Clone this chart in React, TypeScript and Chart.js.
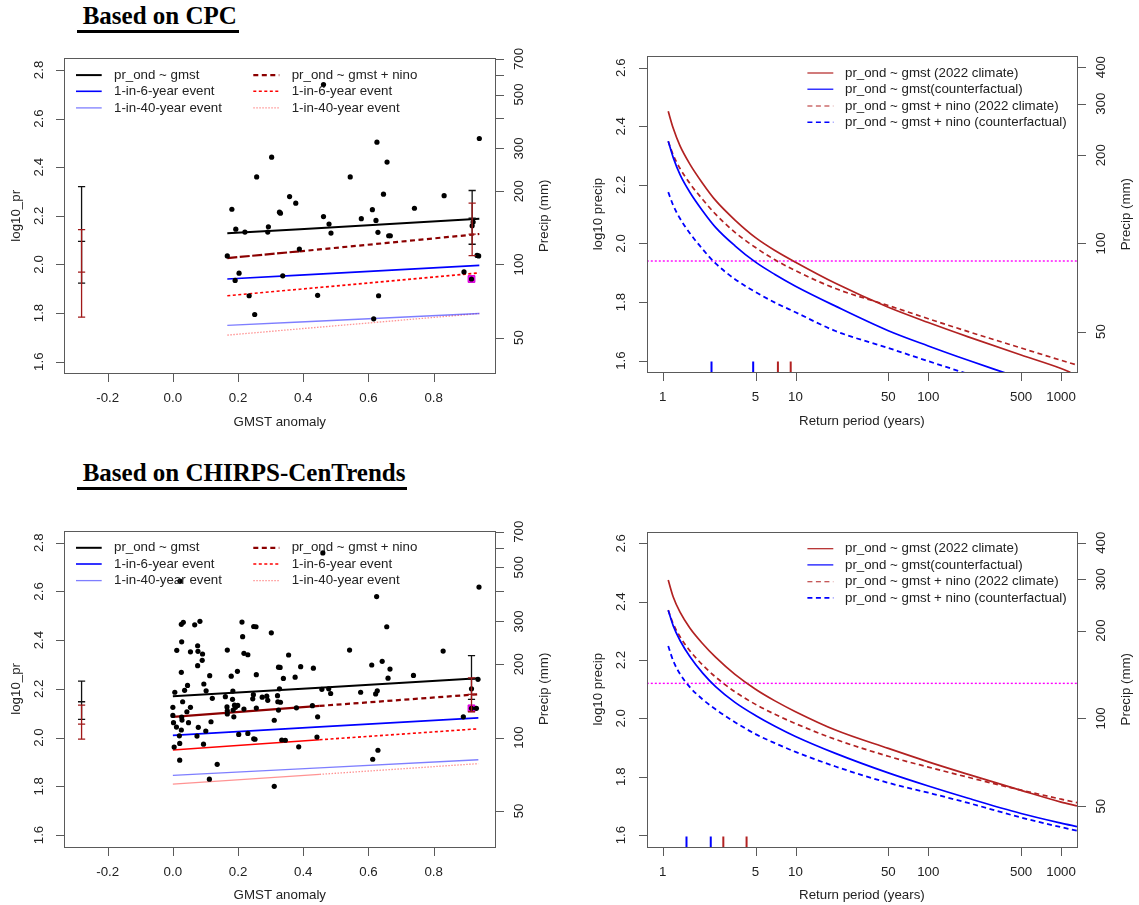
import React, { useEffect, useRef } from "react";
import { Chart, registerables } from "chart.js";

Chart.register(...registerables);

// ---------- styling ----------
const FONT_FAMILY = '"Liberation Sans", Arial, Helvetica, sans-serif';
const TICK_FONT = `13.3px ${FONT_FAMILY}`;
const TEXT_COLOR = "#222222";
const FRAME_COLOR = "#5a5a5a";
const BLUE = "#0000FF";
const LIGHT_BLUE = "rgba(40,40,255,0.6)";
const FIREBRICK = "#B22222";
const DARK_RED = "#8B0000";
const RED = "#FF0000";
const LIGHT_RED = "rgba(255,40,40,0.5)";
const MAGENTA = "#FF00FF";

// ---------- axes ----------
const GMST_TICKS = [-0.2, 0, 0.2, 0.4, 0.6, 0.8];
const GMST_TICK_LABELS = ["-0.2", "0.0", "0.2", "0.4", "0.6", "0.8"];
const TREND_LOG_TICKS = [1.6, 1.8, 2.0, 2.2, 2.4, 2.6, 2.8];
const TREND_MM_TICKS = [50, 100, 200, 300, 400, 500, 600, 700];
const TREND_MM_LABELS = ["50", "100", "200", "300", "", "500", "", "700"];
const RP_TICKS = [1, 5, 10, 50, 100, 500, 1000];
const RP_TICK_LABELS = ["1", "5", "10", "50", "100", "500", "1000"];
const RL_LOG_TICKS = [1.6, 1.8, 2.0, 2.2, 2.4, 2.6];
const RL_MM_TICKS = [50, 100, 200, 300, 400];
const RL_MM_LABELS = ["50", "100", "200", "300", "400"];

const GMST_RANGE = [-0.333, 0.989];
const TREND_LOG_RANGE = [1.552, 2.848];
const RP_RANGE = [0.7586, 1318.3];
const RL_LOG_RANGE = [1.56, 2.64];

// ---------- CPC (1979-2022) ----------
const CPC_GMST = [
  0.167, 0.181, 0.193, 0.191, 0.203, 0.221, 0.234, 0.251, 0.257, 0.293, 0.291,
  0.303, 0.327, 0.33, 0.337, 0.358, 0.377, 0.388, 0.444, 0.462, 0.462, 0.479,
  0.485, 0.544, 0.578, 0.612, 0.616, 0.623, 0.626, 0.629, 0.631, 0.646, 0.657,
  0.662, 0.667, 0.741, 0.832, 0.893, 0.916, 0.918, 0.921, 0.933, 0.938, 0.94,
];
const CPC_LOG10_PR = [
  2.035, 2.227, 2.145, 1.934, 1.964, 2.133, 1.871, 1.794, 2.36, 2.155, 2.133,
  2.441, 2.215, 2.211, 1.953, 2.279, 2.252, 2.063, 1.873, 2.197, 2.74, 2.166,
  2.129, 2.36, 2.188, 2.225, 1.776, 2.181, 2.503, 2.132, 1.871, 2.289, 2.421,
  2.118, 2.118, 2.231, 2.283, 1.969, 1.94, 2.159, 2.174, 2.037, 2.035, 2.518,
];
const CPC_EVENT_GMST = [0.916];
const CPC_EVENT_LOG10_PR = [1.94];

// fitted lines: first year, end of the crowded GMST stretch, last year
const CPC_LINE_GMST = [0.167, 0.39, 0.94];
const CPC_MEAN_GMST = [2.128, 2.145, 2.188];
const CPC_RP6_GMST = [1.94, 1.956, 1.996];
const CPC_RP40_GMST = [1.749, 1.763, 1.798];
const CPC_MEAN_NINO = [2.026, 2.054, 2.125];
const CPC_RP6_NINO = [1.871, 1.898, 1.965];
const CPC_RP40_NINO = [1.709, 1.735, 1.798];

// confidence intervals at counterfactual and 2022 GMST
const CPC_CI_GMST = [-0.28, 0.918];
const CPC_CI_TREND_LO = [1.923, 2.083];
const CPC_CI_TREND_MID = [2.095, 2.19];
const CPC_CI_TREND_HI = [2.32, 2.304];
const CPC_CI_NINO_LO = [1.783, 2.036];
const CPC_CI_NINO_MID = [1.968, 2.125];
const CPC_CI_NINO_HI = [2.143, 2.252];

// return-level curves (return period in years, log10 precip)
const CPC_RP_TREND_NOW = [1.1, 1.2, 1.35, 1.6, 2, 2.5, 3.5, 5, 7, 10, 20, 50, 100, 200, 500, 1000, 1175];
const CPC_RL_TREND_NOW = [2.451, 2.393, 2.333, 2.271, 2.205, 2.147, 2.08, 2.02, 1.976, 1.936, 1.864, 1.782, 1.73, 1.681, 1.619, 1.573, 1.56];
const CPC_RP_TREND_CF = [1.1, 1.2, 1.35, 1.6, 2, 2.5, 3.5, 5, 7, 10, 20, 50, 100, 200, 383];
const CPC_RL_TREND_CF = [2.349, 2.293, 2.235, 2.175, 2.111, 2.055, 1.992, 1.936, 1.894, 1.854, 1.786, 1.702, 1.65, 1.601, 1.557];
const CPC_RP_NINO_NOW = [1.1, 1.2, 1.35, 1.6, 2, 2.5, 3.5, 5, 7, 10, 20, 50, 100, 200, 500, 1000, 1318];
const CPC_RL_NINO_NOW = [2.349, 2.302, 2.256, 2.205, 2.15, 2.1, 2.038, 1.986, 1.944, 1.907, 1.846, 1.788, 1.743, 1.699, 1.643, 1.601, 1.585];
const CPC_RP_NINO_CF = [1.1, 1.2, 1.35, 1.6, 2, 2.5, 3.5, 5, 7, 10, 20, 50, 100, 200];
const CPC_RL_NINO_CF = [2.175, 2.13, 2.085, 2.035, 1.98, 1.932, 1.878, 1.834, 1.798, 1.765, 1.701, 1.643, 1.598, 1.554];
const CPC_EVENT_RP_CF = [2.33, 4.8];
const CPC_EVENT_RP_NOW = [7.37, 9.2];

// ---------- CHIRPS-CenTrends ----------
const CHIRPS_GMST = [
  0.026, 0.032, 0.067, 0.083, 0.212, 0.248, 0.255, 0.302, 0.214, 0.027, 0.012,
  0.054, 0.076, 0.077, 0.091, 0.09, 0.076, 0.167, 0.218, 0.23, 0.355, 0.026,
  0.113, 0.179, 0.198, 0.256, 0.324, 0.329, 0.392, 0.431, 0.339, 0.375, 0.095,
  0.045, 0.006, 0.036, 0.102, 0.184, 0.327, 0.457, 0.121, 0.161, 0.183, 0.247,
  0.245, 0.274, 0.288, 0.291, 0.321, 0.03, 0.0, 0.054, 0.043, 0.166, 0.167,
  0.189, 0.192, 0.199, 0.185, 0.218, 0.256, 0.322, 0.33, 0.324, 0.379, 0.428,
  0.0, 0.027, 0.028, 0.167, 0.187, 0.002, 0.048, 0.117, 0.311, 0.444, 0.011,
  0.026, 0.078, 0.101, 0.02, 0.074, 0.202, 0.23, 0.248, 0.252, 0.334, 0.345,
  0.442, 0.021, 0.094, 0.004, 0.386, 0.021, 0.136, 0.112, 0.311, 0.625, 0.656,
  0.542, 0.829, 0.61, 0.642, 0.666, 0.66, 0.738, 0.478, 0.484, 0.576, 0.622,
  0.627, 0.936, 0.916, 0.916, 0.931, 0.891, 0.629, 0.613, 0.022, 0.46, 0.939,
];
const CHIRPS_LOG10_PR = [
  2.465, 2.473, 2.463, 2.477, 2.474, 2.456, 2.455, 2.43, 2.414, 2.393, 2.358,
  2.352, 2.377, 2.354, 2.343, 2.317, 2.295, 2.359, 2.346, 2.34, 2.339, 2.268,
  2.254, 2.252, 2.272, 2.258, 2.289, 2.288, 2.291, 2.285, 2.243, 2.248, 2.22,
  2.214, 2.186, 2.194, 2.192, 2.191, 2.2, 2.198, 2.161, 2.168, 2.157, 2.176,
  2.159, 2.166, 2.17, 2.153, 2.172, 2.147, 2.124, 2.124, 2.106, 2.126, 2.11,
  2.133, 2.124, 2.132, 2.113, 2.117, 2.121, 2.147, 2.145, 2.113, 2.122, 2.131,
  2.091, 2.084, 2.072, 2.097, 2.085, 2.061, 2.061, 2.065, 2.071, 2.085, 2.043,
  2.031, 2.042, 2.027, 2.007, 2.006, 2.013, 2.017, 1.995, 1.993, 1.99, 1.989,
  2.002, 1.976, 1.973, 1.961, 1.962, 1.907, 1.89, 1.829, 1.8, 2.579, 2.455,
  2.359, 2.355, 2.298, 2.313, 2.281, 2.244, 2.255, 2.2, 2.181, 2.186, 2.179,
  2.192, 2.239, 2.2, 2.12, 2.12, 2.085, 1.948, 1.911, 2.642, 2.758, 2.618,
];
const CHIRPS_EVENT_GMST = [0.916];
const CHIRPS_EVENT_LOG10_PR = [2.12];

const CHIRPS_LINE_GMST = [0.0, 0.45, 0.937];
const CHIRPS_MEAN_GMST = [2.17, 2.205, 2.244];
const CHIRPS_RP6_GMST = [2.009, 2.044, 2.081];
const CHIRPS_RP40_GMST = [1.845, 1.876, 1.909];
const CHIRPS_MEAN_NINO = [2.085, 2.13, 2.178];
const CHIRPS_RP6_NINO = [1.949, 1.991, 2.036];
const CHIRPS_RP40_NINO = [1.809, 1.849, 1.893];

const CHIRPS_CI_GMST = [-0.28, 0.916];
const CHIRPS_CI_TREND_LO = [2.075, 2.157];
const CHIRPS_CI_TREND_MID = [2.147, 2.24];
const CHIRPS_CI_TREND_HI = [2.232, 2.336];
const CHIRPS_CI_NINO_LO = [1.994, 2.106];
const CHIRPS_CI_NINO_MID = [2.055, 2.177];
const CHIRPS_CI_NINO_HI = [2.133, 2.245];

const CHIRPS_RP = [1.1, 1.2, 1.35, 1.6, 2, 2.5, 3.5, 5, 7, 10, 20, 50, 100, 200, 500, 1000, 1318];
const CHIRPS_RL_TREND_NOW = [2.474, 2.416, 2.364, 2.31, 2.256, 2.21, 2.151, 2.1, 2.06, 2.023, 1.96, 1.897, 1.851, 1.808, 1.753, 1.713, 1.7];
const CHIRPS_RL_TREND_CF = [2.371, 2.317, 2.267, 2.212, 2.155, 2.109, 2.055, 2.01, 1.973, 1.938, 1.88, 1.813, 1.768, 1.726, 1.674, 1.641, 1.629];
const CHIRPS_RL_NINO_NOW = [2.371, 2.324, 2.28, 2.232, 2.183, 2.142, 2.091, 2.048, 2.014, 1.982, 1.928, 1.87, 1.833, 1.798, 1.754, 1.723, 1.711];
const CHIRPS_RL_NINO_CF = [2.248, 2.197, 2.152, 2.107, 2.065, 2.031, 1.987, 1.946, 1.915, 1.885, 1.835, 1.779, 1.745, 1.71, 1.66, 1.627, 1.615];
const CHIRPS_EVENT_RP_CF = [1.51, 2.3];
const CHIRPS_EVENT_RP_NOW = [2.86, 4.28];

// ---------- helpers ----------
type Pt = { x: number; y: number };
const zip = (xs: number[], ys: number[]): Pt[] => xs.map((x, i) => ({ x, y: ys[i] }));

interface FrameOpts {
  xTicks: number[];
  xLabels: string[];
  xTitle: string;
  yTicks: number[];
  yTitle: string;
  mmTicks: number[];
  mmLabels: string[];
  mmTitle: string;
  legendCols: { from: number; to: number; text: number }[];
  legendRows: number[];
  rug?: { x: number[]; color: string }[];
}

// Draws the R-style frame, outward ticks, rotated y labels, rug marks and legend
function makeFramePlugin(o: FrameOpts) {
  return {
    id: "frame",
    afterDatasetsDraw(chart: any) {
      const { ctx, chartArea: a } = chart;
      const xs = chart.scales.x;
      const ys = chart.scales.y;
      const L = Math.round(a.left) + 0.5;
      const R = Math.round(a.right) + 0.5;
      const T = Math.round(a.top) + 0.5;
      const B = Math.round(a.bottom) + 0.5;
      ctx.save();

      (o.rug || []).forEach((r) => {
        ctx.strokeStyle = r.color;
        ctx.lineWidth = 2;
        ctx.beginPath();
        r.x.forEach((v) => {
          const px = xs.getPixelForValue(v);
          ctx.moveTo(px, B);
          ctx.lineTo(px, B - 11);
        });
        ctx.stroke();
      });

      ctx.strokeStyle = FRAME_COLOR;
      ctx.lineWidth = 1;
      ctx.setLineDash([]);
      ctx.strokeRect(L, T, R - L, B - T);
      ctx.beginPath();
      o.xTicks.forEach((v) => {
        const px = Math.round(xs.getPixelForValue(v)) + 0.5;
        ctx.moveTo(px, B);
        ctx.lineTo(px, B + 8.5);
      });
      o.yTicks.forEach((v) => {
        const py = Math.round(ys.getPixelForValue(v)) + 0.5;
        ctx.moveTo(L, py);
        ctx.lineTo(L - 8.5, py);
      });
      o.mmTicks.forEach((v) => {
        const py = Math.round(ys.getPixelForValue(Math.log10(v))) + 0.5;
        ctx.moveTo(R, py);
        ctx.lineTo(R + 8.5, py);
      });
      ctx.stroke();

      ctx.fillStyle = TEXT_COLOR;
      ctx.font = TICK_FONT;
      ctx.textAlign = "center";
      ctx.textBaseline = "middle";
      const up = (s: string, x: number, y: number) => {
        ctx.save();
        ctx.translate(x, y);
        ctx.rotate(-Math.PI / 2);
        ctx.fillText(s, 0, 0);
        ctx.restore();
      };
      o.xTicks.forEach((v, i) => ctx.fillText(o.xLabels[i], xs.getPixelForValue(v), a.bottom + 25.5));
      ctx.fillText(o.xTitle, (a.left + a.right) / 2, a.bottom + 49);
      o.yTicks.forEach((v) => up(v.toFixed(1), a.left - 25, ys.getPixelForValue(v)));
      up(o.yTitle, a.left - 48.3, (a.top + a.bottom) / 2);
      o.mmTicks.forEach((v, i) => {
        if (o.mmLabels[i]) up(o.mmLabels[i], a.right + 24.5, ys.getPixelForValue(Math.log10(v)));
      });
      up(o.mmTitle, a.right + 49, (a.top + a.bottom) / 2);

      ctx.textAlign = "left";
      chart.data.datasets.forEach((ds: any) => {
        const slot = ds.legendSlot;
        if (!slot) return;
        const col = o.legendCols[slot[0]];
        const y = a.top + o.legendRows[slot[1]];
        ctx.save();
        ctx.strokeStyle = ds.borderColor;
        ctx.lineWidth = ds.legendWidth || ds.borderWidth;
        ctx.setLineDash(ds.borderDash || []);
        ctx.beginPath();
        ctx.moveTo(a.left + col.from, y);
        ctx.lineTo(a.left + col.to, y);
        ctx.stroke();
        ctx.restore();
        ctx.fillText(ds.label, a.left + col.text, y);
      });
      ctx.restore();
    },
  };
}

function fittedLine(
  label: string,
  xs: number[],
  ys: number[],
  color: string,
  width: number,
  dash: number[],
  crowdedDash: number[] | null,
  slot: [number, number]
) {
  const ds: any = {
    label,
    data: zip(xs, ys),
    showLine: true,
    borderColor: color,
    borderWidth: width,
    borderDash: dash,
    pointRadius: 0,
    legendSlot: slot,
    order: 6,
  };
  if (crowdedDash) {
    ds.segment = { borderDash: (c: any) => (c.p0DataIndex === 0 ? crowdedDash : dash) };
  }
  return ds;
}

function intervalBars(xs: number[], lo: number[], mid: number[], hi: number[], color: string, order: number) {
  return xs.flatMap((x, i) => [
    {
      data: [{ x, y: lo[i] }, { x, y: hi[i] }],
      showLine: true,
      borderColor: color,
      borderWidth: 1.3,
      pointRadius: 0,
      order,
    },
    {
      data: [{ x, y: lo[i] }, { x, y: mid[i] }, { x, y: hi[i] }],
      showLine: false,
      pointStyle: "line",
      pointRadius: 3.6,
      pointBorderColor: color,
      pointBackgroundColor: color,
      pointBorderWidth: 1.3,
      order,
    },
  ]);
}

interface TrendInput {
  gmst: number[];
  pr: number[];
  eventX: number[];
  eventY: number[];
  lineX: number[];
  meanG: number[];
  rp6G: number[];
  rp40G: number[];
  meanN: number[];
  rp6N: number[];
  rp40N: number[];
  crowded: { mean: number[]; rp6: number[]; rp40: number[] };
  ciX: number[];
  ciG: number[][];
  ciN: number[][];
  pad: { left: number; top: number; right: number; bottom: number };
}

function trendConfig(p: TrendInput): any {
  const datasets: any[] = [
    ...intervalBars(p.ciX, p.ciN[0], p.ciN[1], p.ciN[2], "#A01818", 1),
    ...intervalBars(p.ciX, p.ciG[0], p.ciG[1], p.ciG[2], "#111111", 2),
    {
      data: zip(p.gmst, p.pr),
      showLine: false,
      pointRadius: 2.6,
      pointBackgroundColor: "#000000",
      pointBorderWidth: 0,
      order: 3,
    },
    {
      data: zip(p.eventX, p.eventY),
      showLine: false,
      pointStyle: "rect",
      pointRadius: 4.8,
      pointBackgroundColor: MAGENTA,
      pointBorderColor: "#D000D0",
      pointBorderWidth: 1,
      order: 4,
    },
    fittedLine("pr_ond ~ gmst", p.lineX, p.meanG, "#000000", 2, [], null, [1, 0]),
    fittedLine("1-in-6-year event", p.lineX, p.rp6G, BLUE, 1.6, [], null, [1, 1]),
    fittedLine("1-in-40-year event", p.lineX, p.rp40G, LIGHT_BLUE, 1.3, [], null, [1, 2]),
    fittedLine("pr_ond ~ gmst + nino", p.lineX, p.meanN, DARK_RED, 2.2, [5, 3.5], p.crowded.mean, [2, 0]),
    fittedLine("1-in-6-year event", p.lineX, p.rp6N, RED, 1.6, [3, 2.5], p.crowded.rp6, [2, 1]),
    fittedLine("1-in-40-year event", p.lineX, p.rp40N, LIGHT_RED, 1.3, [1.5, 1.5], p.crowded.rp40, [2, 2]),
  ];
  return {
    type: "scatter",
    data: { datasets },
    options: {
      responsive: false,
      animation: false,
      events: [],
      devicePixelRatio: 1,
      layout: { padding: p.pad },
      plugins: { legend: { display: false }, tooltip: { enabled: false } },
      scales: {
        x: { type: "linear", display: false, min: GMST_RANGE[0], max: GMST_RANGE[1] },
        y: { type: "linear", display: false, min: TREND_LOG_RANGE[0], max: TREND_LOG_RANGE[1] },
      },
    },
    plugins: [
      makeFramePlugin({
        xTicks: GMST_TICKS,
        xLabels: GMST_TICK_LABELS,
        xTitle: "GMST anomaly",
        yTicks: TREND_LOG_TICKS,
        yTitle: "log10_pr",
        mmTicks: TREND_MM_TICKS,
        mmLabels: TREND_MM_LABELS,
        mmTitle: "Precip (mm)",
        legendCols: [
          { from: 0, to: 0, text: 0 },
          { from: 11.7, to: 37.4, text: 49.7 },
          { from: 189, to: 215, text: 227.4 },
        ],
        legendRows: [16.8, 33, 49.6],
      }),
    ],
  };
}

interface ReturnInput {
  nowX: number[];
  nowY: number[];
  cfX: number[];
  cfY: number[];
  ninoNowX: number[];
  ninoNowY: number[];
  ninoCfX: number[];
  ninoCfY: number[];
  event: number;
  rugCf: number[];
  rugNow: number[];
  pad: { left: number; top: number; right: number; bottom: number };
}

function curve(label: string, xs: number[], ys: number[], color: string, width: number, dash: number[], slot: [number, number], legendWidth?: number) {
  return {
    label,
    data: zip(xs, ys),
    showLine: true,
    borderColor: color,
    borderWidth: width,
    borderDash: dash,
    cubicInterpolationMode: "monotone",
    pointRadius: 0,
    legendSlot: slot,
    legendWidth,
    order: 3,
  };
}

function returnConfig(p: ReturnInput): any {
  const datasets: any[] = [
    curve("pr_ond ~ gmst (2022 climate)", p.nowX, p.nowY, FIREBRICK, 1.7, [], [1, 0], 1.2),
    curve("pr_ond ~ gmst(counterfactual)", p.cfX, p.cfY, BLUE, 1.7, [], [1, 1], 1.2),
    curve("pr_ond ~ gmst + nino (2022 climate)", p.ninoNowX, p.ninoNowY, FIREBRICK, 1.7, [5, 3.5], [1, 2], 1.1),
    curve("pr_ond ~ gmst + nino (counterfactual)", p.ninoCfX, p.ninoCfY, BLUE, 1.8, [5, 3.5], [1, 3], 1.6),
    {
      data: [
        { x: RP_RANGE[0], y: p.event },
        { x: RP_RANGE[1], y: p.event },
      ],
      showLine: true,
      borderColor: MAGENTA,
      borderWidth: 1.4,
      borderDash: [2, 2],
      pointRadius: 0,
      order: 5,
    },
  ];
  return {
    type: "scatter",
    data: { datasets },
    options: {
      responsive: false,
      animation: false,
      events: [],
      devicePixelRatio: 1,
      layout: { padding: p.pad },
      plugins: { legend: { display: false }, tooltip: { enabled: false } },
      scales: {
        x: { type: "logarithmic", display: false, min: RP_RANGE[0], max: RP_RANGE[1] },
        y: { type: "linear", display: false, min: RL_LOG_RANGE[0], max: RL_LOG_RANGE[1] },
      },
    },
    plugins: [
      makeFramePlugin({
        xTicks: RP_TICKS,
        xLabels: RP_TICK_LABELS,
        xTitle: "Return period (years)",
        yTicks: RL_LOG_TICKS,
        yTitle: "log10 precip",
        mmTicks: RL_MM_TICKS,
        mmLabels: RL_MM_LABELS,
        mmTitle: "Precip (mm)",
        legendCols: [
          { from: 0, to: 0, text: 0 },
          { from: 160.6, to: 186.5, text: 198.2 },
        ],
        legendRows: [17, 33.2, 50, 66.2],
        rug: [
          { x: p.rugCf, color: BLUE },
          { x: p.rugNow, color: FIREBRICK },
        ],
      }),
    ],
  };
}

// ---------- panels ----------
const PANELS = [
  {
    key: "cpc-trend",
    left: 0,
    top: 40,
    width: 560,
    height: 410,
    make: () =>
      trendConfig({
        gmst: CPC_GMST,
        pr: CPC_LOG10_PR,
        eventX: CPC_EVENT_GMST,
        eventY: CPC_EVENT_LOG10_PR,
        lineX: CPC_LINE_GMST,
        meanG: CPC_MEAN_GMST,
        rp6G: CPC_RP6_GMST,
        rp40G: CPC_RP40_GMST,
        meanN: CPC_MEAN_NINO,
        rp6N: CPC_RP6_NINO,
        rp40N: CPC_RP40_NINO,
        crowded: { mean: [10, 2.5], rp6: [3, 2.5], rp40: [1.5, 1.5] },
        ciX: CPC_CI_GMST,
        ciG: [CPC_CI_TREND_LO, CPC_CI_TREND_MID, CPC_CI_TREND_HI],
        ciN: [CPC_CI_NINO_LO, CPC_CI_NINO_MID, CPC_CI_NINO_HI],
        pad: { left: 64.3, top: 18.3, right: 64.7, bottom: 76.7 },
      }),
  },
  {
    key: "cpc-return",
    left: 560,
    top: 40,
    width: 579,
    height: 410,
    make: () =>
      returnConfig({
        nowX: CPC_RP_TREND_NOW,
        nowY: CPC_RL_TREND_NOW,
        cfX: CPC_RP_TREND_CF,
        cfY: CPC_RL_TREND_CF,
        ninoNowX: CPC_RP_NINO_NOW,
        ninoNowY: CPC_RL_NINO_NOW,
        ninoCfX: CPC_RP_NINO_CF,
        ninoCfY: CPC_RL_NINO_CF,
        event: CPC_EVENT_LOG10_PR[0],
        rugCf: CPC_EVENT_RP_CF,
        rugNow: CPC_EVENT_RP_NOW,
        pad: { left: 86.8, top: 16, right: 62, bottom: 77.7 },
      }),
  },
  {
    key: "chirps-trend",
    left: 0,
    top: 500,
    width: 560,
    height: 405,
    make: () =>
      trendConfig({
        gmst: CHIRPS_GMST,
        pr: CHIRPS_LOG10_PR,
        eventX: CHIRPS_EVENT_GMST,
        eventY: CHIRPS_EVENT_LOG10_PR,
        lineX: CHIRPS_LINE_GMST,
        meanG: CHIRPS_MEAN_GMST,
        rp6G: CHIRPS_RP6_GMST,
        rp40G: CHIRPS_RP40_GMST,
        meanN: CHIRPS_MEAN_NINO,
        rp6N: CHIRPS_RP6_NINO,
        rp40N: CHIRPS_RP40_NINO,
        crowded: { mean: [], rp6: [], rp40: [] },
        ciX: CHIRPS_CI_GMST,
        ciG: [CHIRPS_CI_TREND_LO, CHIRPS_CI_TREND_MID, CHIRPS_CI_TREND_HI],
        ciN: [CHIRPS_CI_NINO_LO, CHIRPS_CI_NINO_MID, CHIRPS_CI_NINO_HI],
        pad: { left: 64.3, top: 31, right: 64.7, bottom: 58.3 },
      }),
  },
  {
    key: "chirps-return",
    left: 560,
    top: 500,
    width: 579,
    height: 405,
    make: () =>
      returnConfig({
        nowX: CHIRPS_RP,
        nowY: CHIRPS_RL_TREND_NOW,
        cfX: CHIRPS_RP,
        cfY: CHIRPS_RL_TREND_CF,
        ninoNowX: CHIRPS_RP,
        ninoNowY: CHIRPS_RL_NINO_NOW,
        ninoCfX: CHIRPS_RP,
        ninoCfY: CHIRPS_RL_NINO_CF,
        event: CHIRPS_EVENT_LOG10_PR[0],
        rugCf: CHIRPS_EVENT_RP_CF,
        rugNow: CHIRPS_EVENT_RP_NOW,
        pad: { left: 86.8, top: 31.7, right: 62, bottom: 58.3 },
      }),
  },
];

function Panel({ left, top, width, height, make }: { left: number; top: number; width: number; height: number; make: () => any }) {
  const ref = useRef<HTMLCanvasElement | null>(null);
  useEffect(() => {
    if (!ref.current) return;
    const chart = new Chart(ref.current, make());
    return () => chart.destroy();
  }, [make]);
  return (
    <canvas
      ref={ref}
      width={width}
      height={height}
      style={{ position: "absolute", left, top, width, height, display: "block" }}
    />
  );
}

// bold serif heading with a rule running slightly past both ends of the text
const titleStyle: React.CSSProperties = {
  position: "absolute",
  left: 76.7,
  paddingLeft: 6,
  paddingRight: 2,
  font: 'bold 25px "Liberation Serif", "Times New Roman", serif',
  lineHeight: "26.8px",
  color: "#000",
  whiteSpace: "nowrap",
  borderBottom: "3.5px solid #000",
};

export default function App() {
  return (
    <div style={{ position: "absolute", left: 0, top: 0, width: 1139, height: 905, background: "#fff", overflow: "hidden" }}>
      <div style={{ ...titleStyle, top: 2.9 }}>Based on CPC</div>
      <div style={{ ...titleStyle, top: 459.9 }}>Based on CHIRPS-CenTrends</div>
      {PANELS.map((p) => (
        <Panel key={p.key} left={p.left} top={p.top} width={p.width} height={p.height} make={p.make} />
      ))}
    </div>
  );
}
